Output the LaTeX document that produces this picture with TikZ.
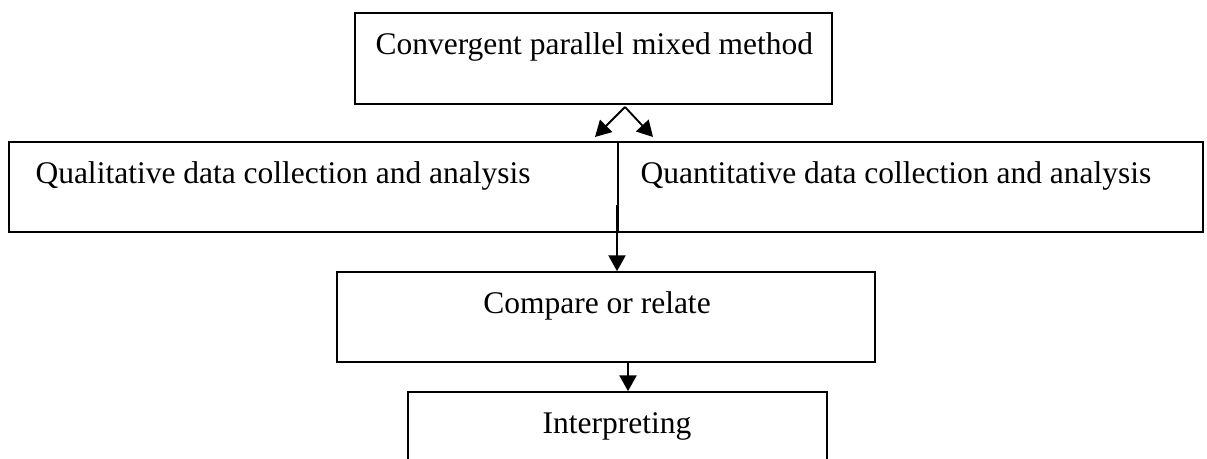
\documentclass[tikz,border=0pt]{standalone}
\usepackage{fontspec}
\setmainfont{Liberation Serif}
\usetikzlibrary{arrows.meta,fit}

\begin{document}
\begin{tikzpicture}[x=0.381pt, y=-0.381pt,
  box/.style={draw, line width=0.65pt, inner sep=0pt},
  lbl/.style={anchor=base west, inner sep=0pt, font=\fontsize{12}{14}\selectfont},
  arr/.style={-{Triangle[length=6pt,width=6.5pt]}, line width=0.7pt}]
\useasboundingbox (0,0) rectangle (1207,459);

\node[box, fit={(355,13) (832,104)}] (conv) {};
\node[box, fit={(9,142) (1203,232)}] (data) {};
\node[box, fit={(337,272) (875,362)}] (comp) {};
\node[box, fit={(408,392) (827,490)}] (interp) {};

\node[lbl] (convtxt) at (375,55) {Convergent parallel mixed method};
\node[lbl] (qualtxt) at (35,184) {Qualitative data collection and analysis};
\node[lbl] (quantxt) at (640,184) {Quantitative data collection and analysis};
\node[lbl, anchor=base] (comptxt) at (597,314) {Compare or relate};
\node[lbl, anchor=base] (interptxt) at (617,434) {Interpreting};

% split into the two strands
\coordinate (split) at (625,107);
\coordinate (qualtip) at (595,137);
\coordinate (quantip) at (653,137);
\draw[arr] (split) -- (qualtip);
\draw[arr] (split) -- (quantip);

% divider, then merge down
\coordinate (divx) at (618,0);
\draw[line width=0.5pt] (data.north -| divx) -- (data.south -| divx);
\coordinate (merge) at (617,205);
\draw[line width=1pt] (merge) -- (merge |- data.south);
\draw[arr] (merge) -- (merge |- comp.north);

\coordinate (downx) at (628,0);
\draw[arr] (comp.south -| downx) -- (interp.north -| downx);
\end{tikzpicture}
\end{document}
